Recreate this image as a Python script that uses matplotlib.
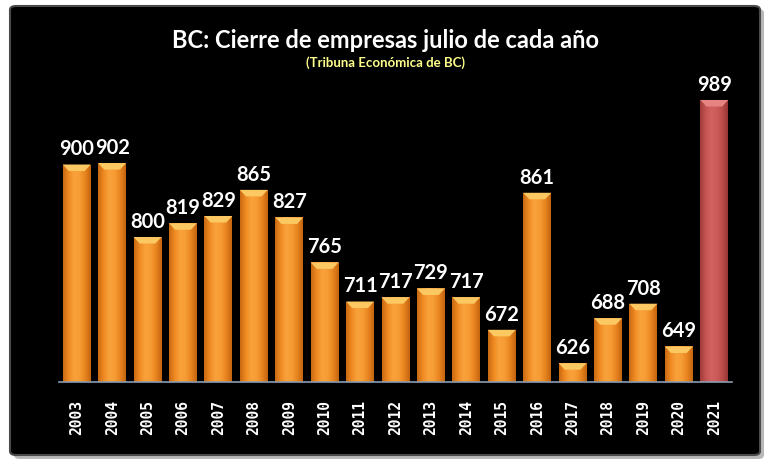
import numpy as np
import matplotlib.pyplot as plt
from matplotlib.patches import FancyBboxPatch, Polygon
from matplotlib.colors import LinearSegmentedColormap

# datos
years = ['2003', '2004', '2005', '2006', '2007', '2008', '2009', '2010', '2011', '2012',
         '2013', '2014', '2015', '2016', '2017', '2018', '2019', '2020', '2021']
cierres = [900, 902, 800, 819, 829, 865, 827, 765, 711, 717,
           729, 717, 672, 861, 626, 688, 708, 649, 989]

titulo = 'BC: Cierre de empresas julio de cada año'
subtitulo = '(Tribuna Económica de BC)'

W, H = 770, 470
fig = plt.figure(figsize=(W / 100, H / 100), dpi=100, facecolor='white')

## panel negro con sombra
sombra = FancyBboxPatch((14 / W, 1 - 459 / H), 750 / W, 450 / H,
                        boxstyle='round,pad=0,rounding_size=0.008',
                        transform=fig.transFigure, facecolor='#b8b8b8',
                        edgecolor='none', zorder=0)
fig.patches.append(sombra)
panel = FancyBboxPatch((10 / W, 1 - 455 / H), 750 / W, 449 / H,
                       boxstyle='round,pad=0,rounding_size=0.008',
                       transform=fig.transFigure, facecolor='black',
                       edgecolor='#4a4a4a', linewidth=1.5, zorder=1)
fig.patches.append(panel)

ax = fig.add_axes([59 / W, 1 - 382 / H, 673 / W, 290 / H])
ax.set_facecolor('none')
ax.set_zorder(2)

base = 600
x = np.arange(len(years))
colores = ['orange'] * (len(years) - 1) + ['red']
bars = ax.bar(x, np.array(cierres) - base, bottom=base, width=0.79,
              color='none', edgecolor='none')

## degradado horizontal en cada barra
grad_nar = ['#c96a12', '#f08a22', '#f9a23c', '#f79c34', '#e8841f', '#c4650f']
grad_roj = ['#9e3c3a', '#c45452', '#d0625f', '#cc5c59', '#bb4d4a', '#963634']
cm_nar = LinearSegmentedColormap.from_list('nar', grad_nar)
cm_roj = LinearSegmentedColormap.from_list('roj', grad_roj)
g = np.linspace(0, 1, 64).reshape(1, -1)

for b, c, v in zip(bars, colores, cierres):
    x0 = b.get_x()
    x1 = x0 + b.get_width()
    cm = cm_nar if c == 'orange' else cm_roj
    im = ax.imshow(g, cmap=cm, extent=(x0, x1, base, v), aspect='auto', zorder=3)
    im.set_clip_path(b)
    # bisel superior
    d = 0.22 * b.get_width()
    top = '#fcc862' if c == 'orange' else '#e58480'
    ax.add_patch(Polygon([(x0, v), (x1, v), (x1 - d, v - 9), (x0 + d, v - 9)],
                         closed=True, facecolor=top, edgecolor='none', zorder=4))
    ax.text(b.get_x() + b.get_width() / 2, v + 7, str(v), ha='center', va='bottom',
            color='white', fontsize=14.5, fontweight='bold', family='Lato', zorder=5)

ax.set_xlim(-0.5, len(years) - 0.5)
ax.set_ylim(base, 1000)
ax.set_xticks(x)
ax.set_xticklabels(years, rotation=90, color='white', fontsize=10.5,
                   fontweight='bold', family='DejaVu Sans Mono')
ax.tick_params(axis='x', length=0, pad=13)
ax.set_yticks([])
for s in ['top', 'left', 'right']:
    ax.spines[s].set_visible(False)
ax.spines['bottom'].set_color('#8c9cae')
ax.spines['bottom'].set_linewidth(1.2)
ax.spines['bottom'].set_zorder(6)

fig.text(0.5, 1 - 40 / H, titulo, ha='center', va='center', color='white',
         fontsize=17, fontweight='bold', family='Lato', zorder=5)
fig.text(0.5, 1 - 63 / H, subtitulo, ha='center', va='center', color='#ffff8c',
         fontsize=9.5, fontweight='bold', family='Lato', zorder=5)

fig.savefig('out.png', dpi=100, facecolor='white')
